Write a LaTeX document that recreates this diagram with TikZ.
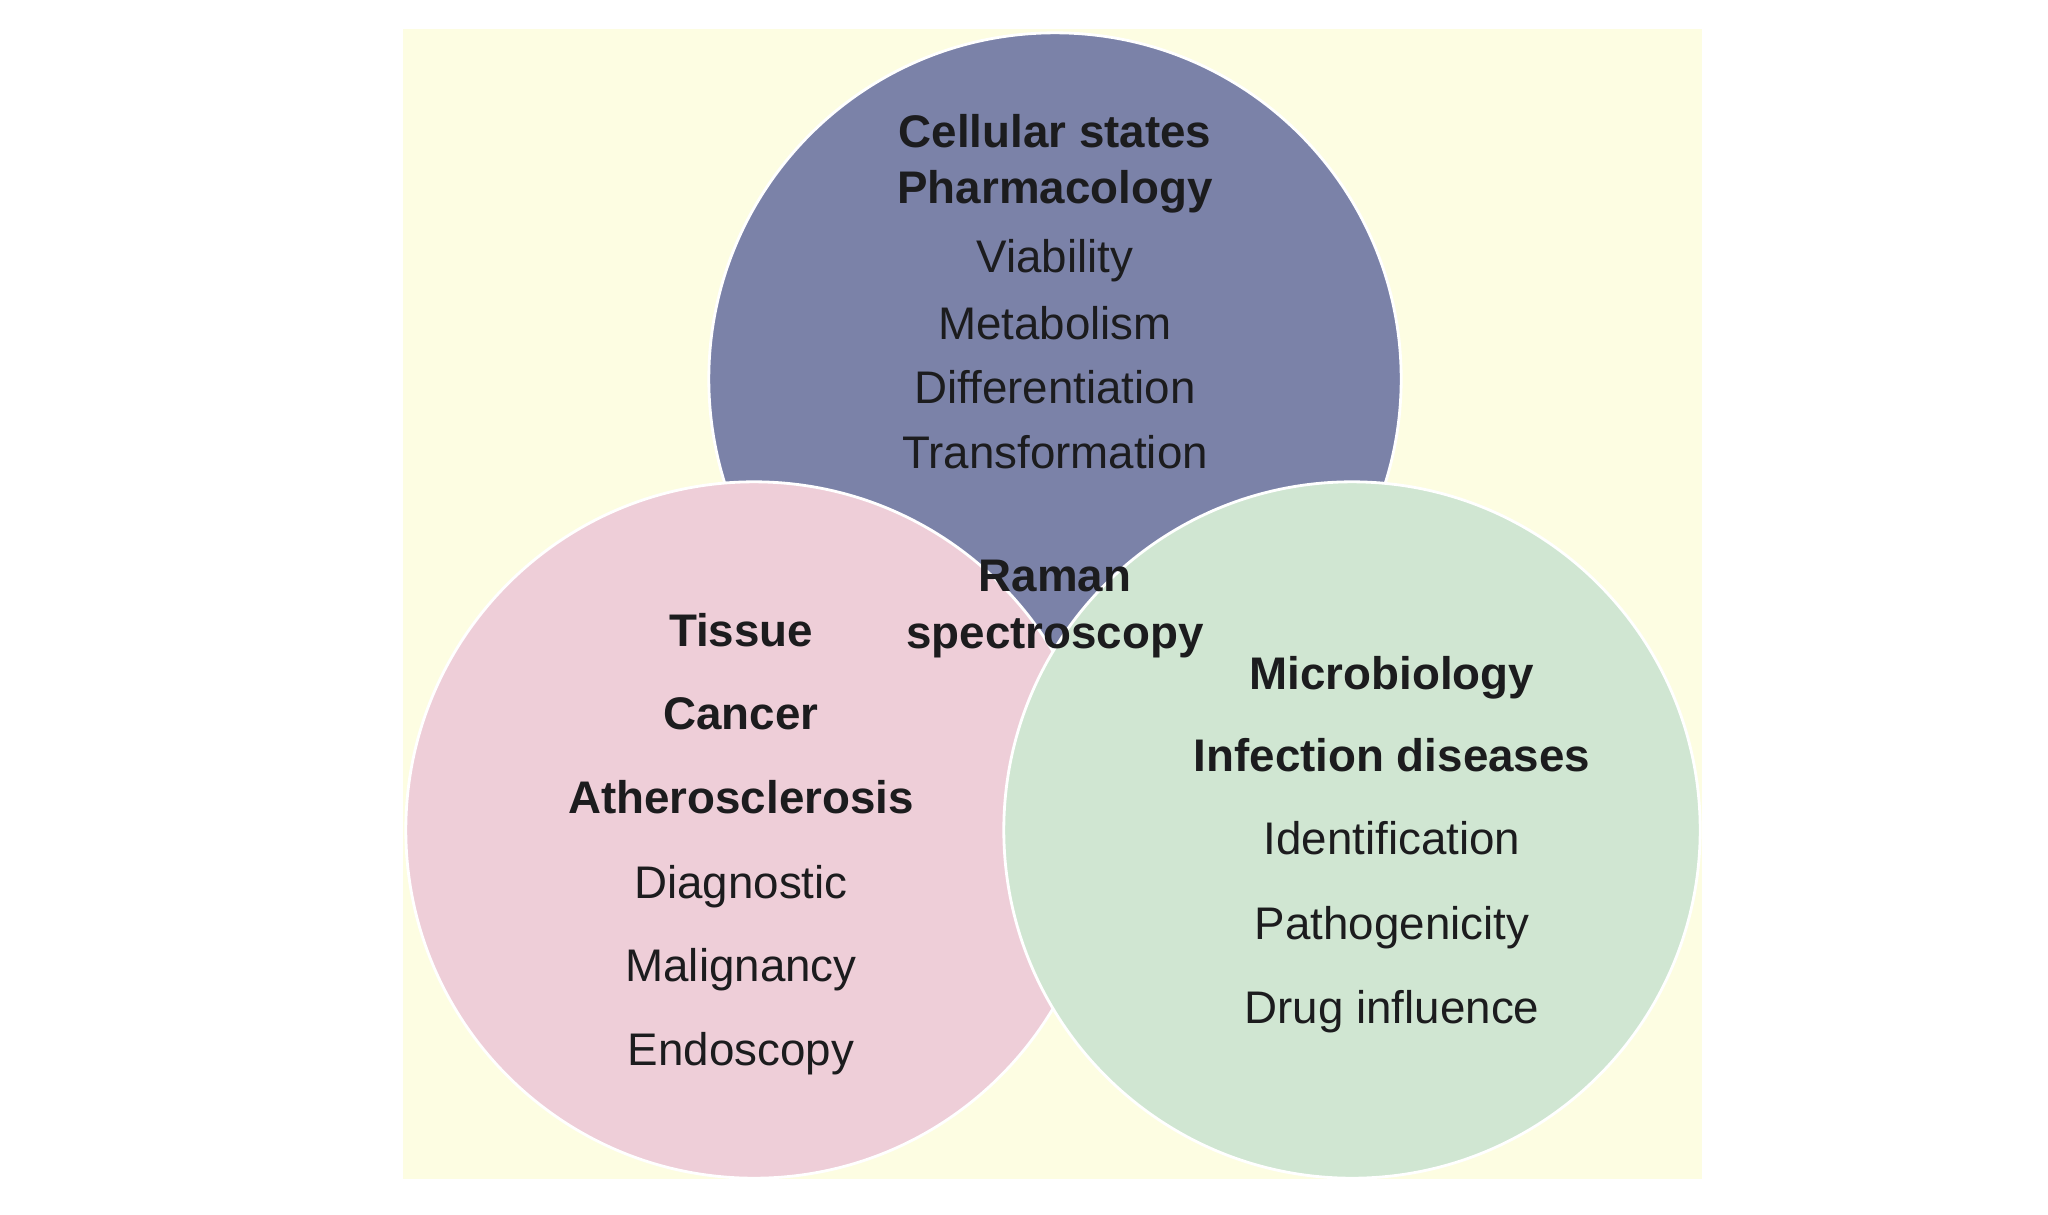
\documentclass[tikz,border=0pt]{standalone}
\usepackage{fontspec}
\setmainfont{Liberation Sans}
\usetikzlibrary{positioning}

\definecolor{paper}{RGB}{253,253,226}
\definecolor{cellblue}{RGB}{123,130,168}
\definecolor{tissuepink}{RGB}{238,206,216}
\definecolor{microgreen}{RGB}{208,230,210}
\definecolor{ink}{RGB}{28,28,30}

\begin{document}
\begin{tikzpicture}[x=0.01cm, y=-0.01cm,
    every node/.style={font=\fontsize{13}{15}\selectfont, text=ink, anchor=base},
    head/.style={font=\fontsize{13}{15}\selectfont\bfseries},
    ring/.style={circle, draw=white, line width=0.8pt, inner sep=0pt, anchor=center}]
    \useasboundingbox[fill=white] (0,0) rectangle (2048,1214);
    \fill[paper] (403,29) rectangle (1702,1179);

    % the three fields
    \node[ring, fill=cellblue, minimum size=6.92cm] (cells) at (1055,379) {};
    \node[ring, fill=tissuepink, minimum size=6.96cm] (tissue) at (754,830) {};
    \node[ring, fill=microgreen, minimum size=6.96cm] (micro) at (1352,830) {};

    % top circle
    \node[head] (cellular) at (1055,147) {Cellular states};
    \node[head] (pharma) at (1055,203) {Pharmacology};
    \node (viab) at (1055,272) {Viability};
    \node (metab) at (1055,339) {Metabolism};
    \node (diff) at (1055,403) {Differentiation};
    \node (transf) at (1055,468) {Transformation};

    % centre
    \node[head] (raman) at (1055,591) {Raman};
    \node[head] (spectro) at (1055,648) {spectroscopy};

    % left circle
    \node[head] (tiss) at (741,646) {Tissue};
    \node[head] (cancer) at (741,729) {Cancer};
    \node[head] (athero) at (741,813) {Atherosclerosis};
    \node (diag) at (741,898) {Diagnostic};
    \node (malig) at (741,981) {Malignancy};
    \node (endo) at (741,1065) {Endoscopy};

    % right circle
    \node[head] (microbio) at (1392,689) {Microbiology};
    \node[head] (infect) at (1392,771) {Infection diseases};
    \node (ident) at (1392,854) {Identification};
    \node (patho) at (1392,939) {Pathogenicity};
    \node (drug) at (1392,1023) {Drug influence};
\end{tikzpicture}
\end{document}
